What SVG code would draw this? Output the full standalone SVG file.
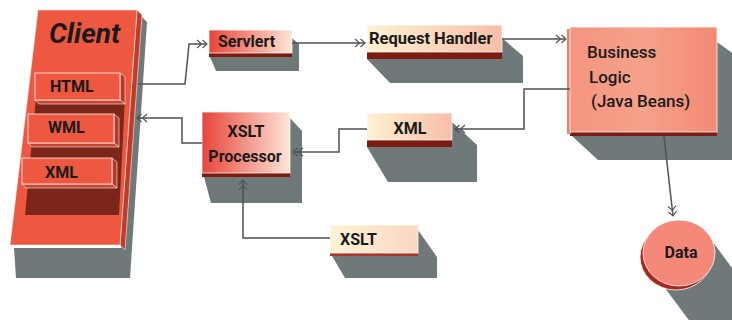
<svg xmlns="http://www.w3.org/2000/svg" width="732" height="320" viewBox="0 0 732 320">
  <defs>
    <linearGradient id="gRed" x1="0" y1="0" x2="1" y2="0">
      <stop offset="0" stop-color="#e8443a"/>
      <stop offset="1" stop-color="#fde6d8"/>
    </linearGradient>
    <linearGradient id="gPale" x1="0" y1="0" x2="1" y2="0">
      <stop offset="0" stop-color="#fdf2d2"/>
      <stop offset="1" stop-color="#f8bea8"/>
    </linearGradient>
    <linearGradient id="gPale2" x1="0" y1="0" x2="1" y2="0">
      <stop offset="0" stop-color="#fdf3d6"/>
      <stop offset="1" stop-color="#fad7c2"/>
    </linearGradient>
    <linearGradient id="gSalmon" x1="0" y1="0" x2="1" y2="0">
      <stop offset="0" stop-color="#f49580"/>
      <stop offset="0.5" stop-color="#f6a18b"/>
      <stop offset="1" stop-color="#f28a74"/>
    </linearGradient>
    <!-- open double chevron ">>" used on every connector end -->
    <marker id="dbl" markerUnits="userSpaceOnUse" markerWidth="14" markerHeight="10" refX="10" refY="4" orient="auto" overflow="visible">
      <path d="M0,0 L4.5,4 L0,8 M5.5,0 L10,4 L5.5,8" fill="none" stroke="#4e5152" stroke-width="1.1"/>
    </marker>
    <style>
      .shadow { fill: #6f797a; }
      .strip { fill: #7d1d12; }
      .face { stroke: #ffffff; stroke-opacity: 0.75; stroke-width: 1; }
      .lbl { font-family: Roboto, "Liberation Sans", sans-serif; font-weight: 700; font-size: 16px; fill: #1a1a1a; }
      .conn { fill: none; stroke: #4e5152; stroke-width: 1.5; marker-end: url(#dbl); }
    </style>
  </defs>

  <rect width="732" height="320" fill="#ffffff"/>

  <!-- Client slab with its three format tiles -->
  <g id="client">
    <polygon class="shadow" points="139,14 147,22 130,278 16,278 14,248 121,248"/>
    <polygon points="137,10 142,15 125,250 120,245" fill="#c43a28" stroke="#ffffff" stroke-opacity="0.7" stroke-width="0.8"/>
    <polygon points="38,10 137,10 120,245 10,245" fill="#ee5841" stroke="#ffffff" stroke-opacity="0.6" stroke-width="0.8"/>
    <polygon points="36,98 125,98 119,215 25,215" fill="#7b2618"/>
    <text x="49" y="43" class="lbl" font-style="italic" style="font-size:28px">Client</text>

    <g id="client-html">
      <polygon points="120,73 125,77 125,104 120,100" fill="#b9382a" stroke="#fff" stroke-opacity="0.7" stroke-width="0.8"/>
      <polygon points="35,100 120,100 125,104 39,104" fill="#c9452f" stroke="#fff" stroke-opacity="0.7" stroke-width="0.8"/>
      <rect x="35" y="73" width="85" height="27" fill="#ee5841" class="face"/>
      <text x="50" y="92" class="lbl">HTML</text>
    </g>
    <g id="client-wml">
      <polygon points="114,114 119,118 119,147 114,143" fill="#b9382a" stroke="#fff" stroke-opacity="0.7" stroke-width="0.8"/>
      <polygon points="28,143 114,143 119,147 32,147" fill="#c9452f" stroke="#fff" stroke-opacity="0.7" stroke-width="0.8"/>
      <rect x="28" y="114" width="86" height="29" fill="#ee5841" class="face"/>
      <text x="48" y="133" class="lbl">WML</text>
    </g>
    <g id="client-xml">
      <polygon points="112,158 117,162 117,188 112,184" fill="#b9382a" stroke="#fff" stroke-opacity="0.7" stroke-width="0.8"/>
      <polygon points="22,184 112,184 117,188 26,188" fill="#c9452f" stroke="#fff" stroke-opacity="0.7" stroke-width="0.8"/>
      <rect x="22" y="158" width="90" height="26" fill="#ee5841" class="face"/>
      <text x="45" y="178" class="lbl">XML</text>
    </g>
  </g>

  <!-- Servlet -->
  <g id="servlert">
    <polygon class="shadow" points="292,38 299,44 299,71 216,71 210,57 292,57"/>
    <rect x="209" y="53" width="83" height="4" class="strip"/>
    <rect x="209" y="30" width="83" height="23" fill="url(#gRed)" class="face"/>
    <text x="218" y="47" class="lbl">Servlert</text>
  </g>

  <!-- Request handler -->
  <g id="request-handler">
    <polygon class="shadow" points="502,38 523,56 523,83 390,83 367,59 502,59"/>
    <rect x="367" y="52" width="135" height="7" class="strip"/>
    <rect x="367" y="25" width="135" height="27" fill="url(#gPale)" class="face"/>
    <text x="369" y="44" class="lbl" style="font-size:16.5px">Request Handler</text>
  </g>

  <!-- Business logic -->
  <g id="business-logic">
    <polygon class="shadow" points="717,42 745,62 745,160 598,160 572,136 717,136"/>
    <rect x="570" y="132" width="147" height="4" class="strip"/>
    <rect x="567" y="29" width="4" height="105" fill="#e9836d"/>
    <rect x="570" y="27" width="147" height="105" fill="url(#gSalmon)" class="face"/>
    <g class="lbl" style="font-weight:500;font-size:17px">
      <text x="587" y="58">Business</text>
      <text x="589" y="83">Logic</text>
      <text x="591" y="107">(Java Beans)</text>
    </g>
  </g>

  <!-- XML document -->
  <g id="xml">
    <polygon class="shadow" points="452,122 477,145 477,182 388,182 367,147 452,147"/>
    <rect x="367" y="140" width="85" height="7" class="strip"/>
    <rect x="367" y="113" width="85" height="27" fill="url(#gPale)" class="face"/>
    <text x="410" y="134" class="lbl" text-anchor="middle">XML</text>
  </g>

  <!-- XSLT processor -->
  <g id="xslt-processor">
    <polygon class="shadow" points="290,118 302,131 302,203 211,203 204,177 290,177"/>
    <rect x="202" y="173" width="88" height="4" class="strip"/>
    <rect x="202" y="112" width="88" height="61" fill="url(#gRed)" class="face"/>
    <text x="246" y="137" class="lbl" text-anchor="middle">XSLT</text>
    <text x="245" y="162" class="lbl" text-anchor="middle">Processor</text>
  </g>

  <!-- XSLT stylesheet -->
  <g id="xslt">
    <polygon class="shadow" points="418,230 437,257 437,278 345,278 332,256 418,256"/>
    <rect x="330" y="253" width="88" height="3" fill="#a8382a"/>
    <rect x="330" y="225" width="88" height="28" fill="url(#gPale2)" class="face"/>
    <text x="340" y="245" class="lbl">XSLT</text>
  </g>

  <!-- Data store -->
  <g id="data">
    <polygon class="shadow" points="707,234 790,347 738,386 653,272"/>
    <ellipse cx="676" cy="257" rx="36" ry="33" fill="#a8281a" stroke="#ffffff" stroke-opacity="0.8" stroke-width="1"/>
    <ellipse cx="679" cy="253" rx="36" ry="33" fill="#f4897a" class="face"/>
    <text x="681" y="258" class="lbl" text-anchor="middle">Data</text>
  </g>

  <!-- Connectors -->
  <g id="connectors">
    <path class="conn" d="M138,84 H185 L189,44 H207"/>
    <path class="conn" d="M292,43 H365"/>
    <path class="conn" d="M502,39 H566"/>
    <path class="conn" d="M570,89 H524 V129 H455"/>
    <path class="conn" d="M367,129 H339 V152 H293"/>
    <path class="conn" d="M202,143 H182 V118 H137"/>
    <path class="conn" d="M330,238 H243 V180"/>
    <path class="conn" d="M664,136 L673,216"/>
  </g>
</svg>
